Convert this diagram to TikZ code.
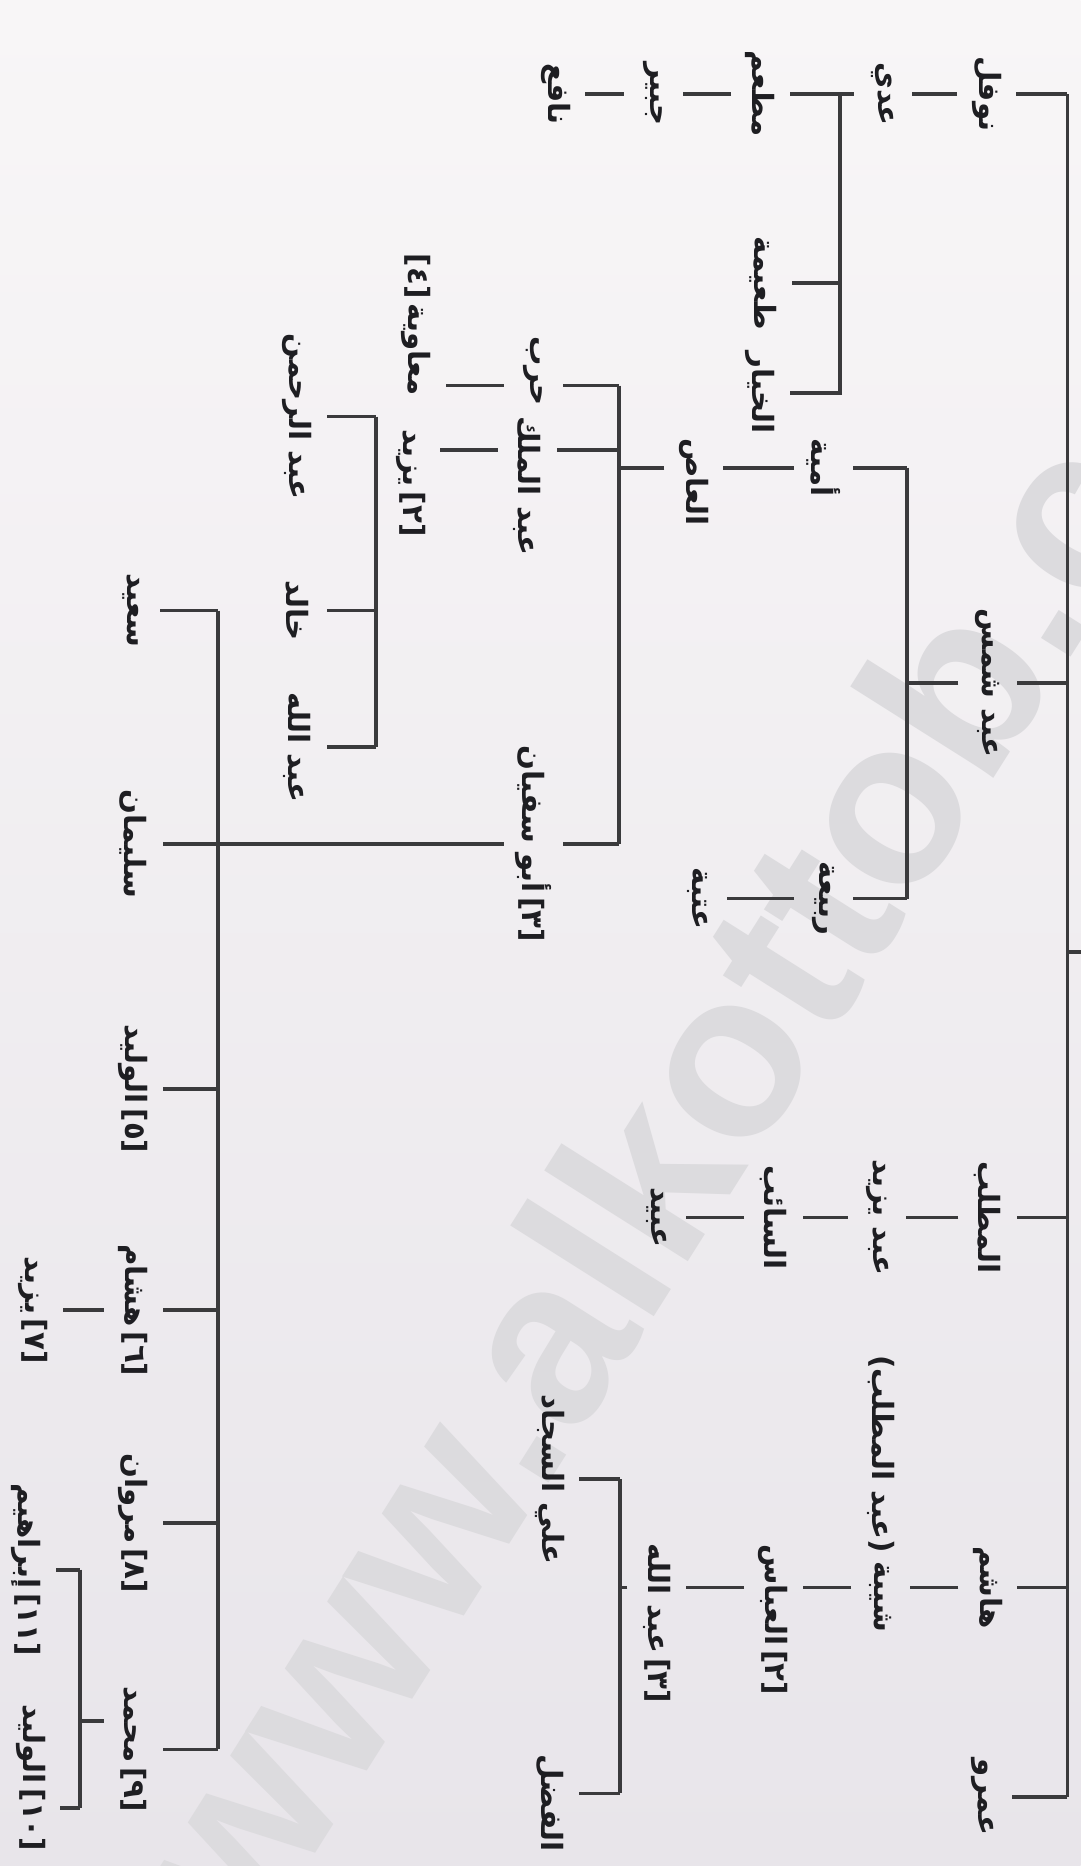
\documentclass[tikz,border=0pt]{standalone}
\usepackage{fontspec}
\setmainfont{DejaVu Sans}
\newfontfamily\arabicfont[Script=Arabic]{DejaVu Sans}
\newfontfamily\wmfont{Liberation Sans}
\TeXXeTstate=1
\usetikzlibrary{calc}
\definecolor{lnc}{HTML}{3A3A3C}
\definecolor{txc}{HTML}{1E1E22}
\definecolor{wmgray}{HTML}{DCDBDE}
\definecolor{pgtop}{HTML}{F8F6F7}
\definecolor{pgbot}{HTML}{E8E5EA}
\newcommand{\arn}[1]{{\arabicfont\beginR #1\endR}}
\newcommand{\nbr}[1]{{\arabicfont[#1]}}
\newcommand{\pdd}[1]{\hspace*{#1cm}}

\begin{document}
\begin{tikzpicture}[x=0.01cm, y=-0.01cm,
    nm/.style={rotate=-90, inner xsep=1pt, inner ysep=0pt, minimum height=0.48cm,
               text=txc, font=\arabicfont\bfseries\fontsize{7}{8}\selectfont},
    ln/.style={draw=lnc, line width=0.9pt},
    wm/.style={text=wmgray, font=\wmfont\bfseries\fontsize{56}{56}\selectfont}]
  \shade[top color=pgtop, bottom color=pgbot] (0,0) rectangle (908,1568);
  \useasboundingbox (0,0) rectangle (908,1568);
  \node[wm, rotate=57.7, anchor=base west] (wmk) at (206,1650) {www.alkottob.com};

  \coordinate (rt) at (897,79);
  \coordinate (rb) at (897,1510);
  \coordinate (up) at (908,800);

  \node[nm] (L1a) at (829,79) {\arn{نوفل}};
  \node[nm] (L1b) at (742,79) {\arn{عدي}};
  \node[nm] (L1c) at (639,79) {\arn{مطعم}};
  \node[nm] (L1d) at (549,79) {\arn{جبير}};
  \node[nm] (L1e) at (467,79) {\arn{نافع}};
  \node[nm] (L1f) at (641,238) {\arn{طعيمة}};
  \node[nm] (L1g) at (639,330) {\arn{الخيار}};
  \coordinate (v1t) at (706,79);

  \node[nm] (L2a) at (830,574) {\arn{عبد شمس}};
  \node[nm] (L2b) at (692,393) {\arn{أمية}};
  \node[nm] (L2c) at (583,393) {\pdd{0.24}\arn{العاص}};
  \node[nm] (L2g) at (692,755) {\arn{ربيعة}};
  \node[nm] (L2h) at (586,755) {\arn{عتبة}};
  \node[nm] (L2d) at (448,324) {\arn{حرب}\pdd{0.24}};
  \node[nm] (L2e) at (443,378) {\pdd{0.6}\arn{عبد الملك}};
  \node[nm] (L2f) at (448,709) {\arn{أبو سفيان}\,\nbr{٣}};
  \node[nm] (N4) at (350,324) {\nbr{٤}\,\arn{معاوية}\pdd{1.02}};
  \node[nm] (N2) at (345,378) {\pdd{0.56}\arn{يزيد}\,\nbr{٢}};
  \coordinate (v2t) at (762,393);
  \coordinate (v2b) at (762,755);
  \coordinate (v3t) at (520,324);
  \coordinate (v3b) at (520,709);

  \node[nm] (L7a) at (250,350) {\arn{عبد الرحمن}};
  \node[nm] (L7b) at (250,513) {\arn{خالد}};
  \node[nm] (L7c) at (250,628) {\arn{عبد الله}};
  \coordinate (v4t) at (316,350);
  \coordinate (v4b) at (316,628);

  \node[nm] (a) at (110,513) {\arn{سعيد}};
  \node[nm] (b) at (112,709) {\arn{سليمان}};
  \node[nm] (c) at (112,915) {\arn{الوليد}\,\nbr{٥}};
  \node[nm] (d) at (112,1101) {\arn{هشام}\,\nbr{٦}};
  \node[nm] (g) at (28,1101) {\arn{يزيد}\,\nbr{٧}};
  \node[nm] (e) at (112,1280) {\arn{مروان}\,\nbr{٨}};
  \node[nm] (f) at (112,1470) {\arn{محمد}\,\nbr{٩}};
  \node[nm] (h) at (22,1319) {\arn{إبراهيم}\,\nbr{١١}};
  \node[nm] (i) at (26,1519) {\arn{الوليد}\,\nbr{١٠}\pdd{0.5}};
  \coordinate (v5t) at (183,513);
  \coordinate (v5b) at (183,1470);
  \coordinate (v6t) at (67,1319);
  \coordinate (v6m) at (67,1446);
  \coordinate (v6b) at (67,1519);

  \node[nm] (L3a) at (830,1023) {\arn{المطلب}};
  \node[nm] (L3b) at (737,1023) {\arn{عبد يزيد}};
  \node[nm] (L3c) at (650,1023) {\arn{السائب}};
  \node[nm] (L3d) at (552,1023) {\arn{عبيد}};

  \node[nm] (L4a) at (830,1334) {\arn{هاشم}};
  \node[nm] (L4b) at (740,1334) {\pdd{0.16}\arn{شيبة}};
  \node[nm] (nt) at (740,1222) {\arn{(عبد المطلب)}};
  \node[nm] (L4c) at (650,1334) {\pdd{0.54}\arn{العباس}\,\nbr{٢}};
  \node[nm] (L4d) at (552,1334) {\pdd{0.6}\arn{عبد الله}\,\nbr{٣}};
  \node[nm] (L4e) at (462,1243) {\arn{علي السجاد}};
  \node[nm] (L4f) at (462,1507) {\pdd{0.16}\arn{الفضل}};
  \coordinate (v7t) at (521,1243);
  \coordinate (v7b) at (521,1507);

  \node[nm] (L5a) at (826,1510) {\arn{عمرو}};

  \draw[ln] (rt) -- (rb);
  \draw[ln] (up) -- (up -| rt);
  \draw[ln] (rt) -- (L1a) -- (L1b) -- (v1t) -- (L1c) -- (L1d) -- (L1e);
  \draw[ln] (v1t) |- (L1f);
  \draw[ln] (v1t) |- (L1g);

  \draw[ln] (L2a -| rt) -- (L2a) -- (L2a -| v2t);
  \draw[ln] (v2t) -- (v2b);
  \draw[ln] (v2t) -- (L2b) -- (L2c) -- (L2c -| v3t);
  \draw[ln] (v2b) -- (L2g) -- (L2h);
  \draw[ln] (v3t) -- (v3b);
  \draw[ln] (v3t) -- (L2d) -- (N4);
  \draw[ln] (L2e -| v3t) -- (L2e) -- (N2);
  \draw[ln] (v3b) -- (L2f) -- (b);

  \draw[ln] (v4t) -- (v4b);
  \draw[ln] (v4t) -- (L7a);
  \draw[ln] (L7b -| v4t) -- (L7b);
  \draw[ln] (v4b) -- (L7c);

  \draw[ln] (v5t) -- (v5b);
  \draw[ln] (v5t) -- (a);
  \draw[ln] (c -| v5t) -- (c);
  \draw[ln] (d -| v5t) -- (d) -- (g);
  \draw[ln] (e -| v5t) -- (e);
  \draw[ln] (v5b) -- (f);
  \draw[ln] (v6t) -- (v6b);
  \draw[ln] (v6t) -- (h);
  \draw[ln] (v6b) -- (i);
  \draw[ln] (v6m) -- (v6m -| f.south);

  \draw[ln] (L3a -| rt) -- (L3a) -- (L3b) -- (L3c) -- (L3d);

  \draw[ln] (L4a -| rt) -- (L4a) -- (L4b) -- (L4c) -- (L4d) -- (L4d -| v7t);
  \draw[ln] (v7t) -- (v7b);
  \draw[ln] (v7t) -- (L4e);
  \draw[ln] (v7b) -- (L4f);

  \draw[ln] (rb) -- (L5a);
\end{tikzpicture}
\end{document}
